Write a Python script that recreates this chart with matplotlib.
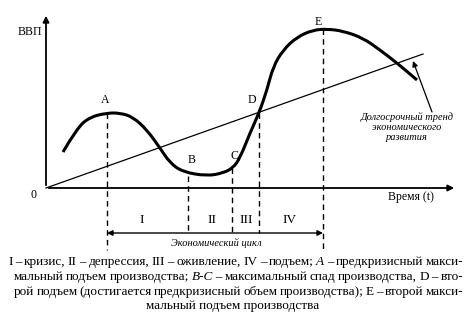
import matplotlib
matplotlib.use("Agg")
import matplotlib.pyplot as plt
from matplotlib.path import Path
from matplotlib.patches import PathPatch

W, H = 467, 320
SERIF = ["Liberation Serif", "DejaVu Serif"]

# ---- data (time t, GDP), origin at the crossing of the axes ----
cycle_t = [17, 31, 44, 61, 74, 87, 101, 114, 124, 137, 161, 177, 187, 194, 204,
           213, 221, 227, 237, 251, 267, 281, 297, 317, 334, 351, 371]
cycle_gdp = [36, 60, 71, 75, 75, 71, 58, 40, 25, 16, 12, 15, 20, 30, 55,
             75, 98, 121, 138, 151, 158, 159, 157, 150, 138, 125, 108]

trend_t = [0, 377]
trend_gdp = [0, 134]

point_names = ["A", "B", "C", "D", "E"]
point_t = [61, 142, 186, 213, 277]
point_gdp = [75, 12, 20, 75, 159]
point_floor = [-62, -45, -45, -45, -62]

phase_names = ["I", "II", "III", "IV"]
phase_t = [96, 166, 200, 244]

caption_lines = [
    [("I", "normal"), ("–", "normal"), ("кризис,", "normal"), ("II", "normal"), ("–", "normal"),
     ("депрессия,", "normal"), ("III", "normal"), ("–", "normal"), ("оживление,", "normal"),
     ("IV", "normal"), ("–", "normal"), ("подъем;", "normal"), ("А", "italic"), ("–", "normal"),
     ("предкризисный", "normal"), ("макси-", "normal")],
    [("мальный", "normal"), ("подъем", "normal"), ("производства;", "normal"), ("B-C", "italic"),
     ("–", "normal"), ("максимальный", "normal"), ("спад", "normal"), ("производства,", "normal"),
     ("D", "normal"), ("–", "normal"), ("вто-", "normal")],
    [("рой", "normal"), ("подъем", "normal"), ("(достигается", "normal"), ("предкризисный", "normal"),
     ("объем", "normal"), ("производства);", "normal"), ("Е", "normal"), ("–", "normal"),
     ("второй", "normal"), ("макси-", "normal")],
]
caption_last = "мальный подъем производства"

fig = plt.figure(figsize=(W / 100, H / 100), dpi=100)
ax = fig.add_axes([0, 0, 1, 1])
ax.set_xlim(-46, W - 46)
ax.set_ylim(188 - H, 188)
ax.axis("off")

# axes with arrows
ax.annotate("", xy=(0, 175), xytext=(0, 0),
            arrowprops=dict(arrowstyle="-|>", lw=1.3, color="black", mutation_scale=9))
ax.annotate("", xy=(411, 0), xytext=(0, 0),
            arrowprops=dict(arrowstyle="-|>", lw=1.3, color="black", mutation_scale=9))

# trend line
ax.plot(trend_t, trend_gdp, color="black", lw=0.9)

# cycle curve, drawn as a smooth path through the read points (quadratic midpoints)
pts = list(zip(cycle_t, cycle_gdp))
verts = [pts[0]]
codes = [Path.MOVETO]
for i in range(1, len(pts) - 1):
    mid = ((pts[i][0] + pts[i + 1][0]) / 2, (pts[i][1] + pts[i + 1][1]) / 2)
    verts += [pts[i], mid]
    codes += [Path.CURVE3, Path.CURVE3]
verts.append(pts[-1])
codes.append(Path.LINETO)
ax.add_patch(PathPatch(Path(verts, codes), facecolor="none", edgecolor="black", lw=2.2,
                       capstyle="butt", joinstyle="round"))

# dashed verticals and point labels
label_off = [(-2, 13), (4, 16), (2, 12), (-7, 13), (-5, 7)]
for name, t, g, fl, (dx, dy) in zip(point_names, point_t, point_gdp, point_floor, label_off):
    ax.plot([t, t], [g, fl], color="black", lw=1.0, ls=(0, (4, 3)))
    ax.text(t + dx, g + dy, name, family=SERIF, fontsize=8.5, ha="center", va="center")

# phases
for name, t in zip(phase_names, phase_t):
    ax.text(t, -32, name, family=SERIF, fontsize=9.5, ha="center", va="center")

ax.annotate("", xy=(point_t[0], -45), xytext=(point_t[-1], -45),
            arrowprops=dict(arrowstyle="<|-|>", lw=1.0, color="black", mutation_scale=8,
                            shrinkA=0, shrinkB=0))
ax.text(170, -55, "Экономический цикл", family=SERIF, style="italic", fontsize=7.5,
        ha="center", va="center")

# axis labels
ax.text(-16, 156, "ВВП", family=SERIF, fontsize=8.5, ha="center", va="center")
ax.text(-13, -7, "0", family=SERIF, fontsize=8.5, ha="center", va="center")
ax.text(365, -9, "Время (t)", family=SERIF, fontsize=8.5, ha="center", va="center")

# trend annotation
ax.text(361, 61, "Долгосрочный тренд\nэкономического\nразвития", family=SERIF, style="italic",
        fontsize=7.5, ha="center", va="center", linespacing=1.2)
ax.annotate("", xy=(367, 127), xytext=(386, 76),
            arrowprops=dict(arrowstyle="-|>", lw=0.9, color="black", mutation_scale=8,
                            shrinkA=0, shrinkB=0))

# caption (justified)
renderer = fig.canvas.get_renderer()
CAP_FS = 9.5


def justify(words, ypx, x0, x1):
    texts = [fig.text(0, 1 - ypx / H, w, fontsize=CAP_FS, family=SERIF, style=s,
                      ha="left", va="center") for w, s in words]
    widths = [t.get_window_extent(renderer).width for t in texts]
    gap = (x1 - x0 - sum(widths)) / (len(texts) - 1)
    x = x0
    for t, w in zip(texts, widths):
        t.set_x(x / W)
        x += w + gap


justify(caption_lines[0], 262, 8, 463)
justify(caption_lines[1], 277, 14, 463)
justify(caption_lines[2], 292, 14, 463)
fig.text(233 / W, 1 - 306 / H, caption_last, fontsize=CAP_FS, family=SERIF, ha="center", va="center")

fig.savefig("out.png", dpi=100)
